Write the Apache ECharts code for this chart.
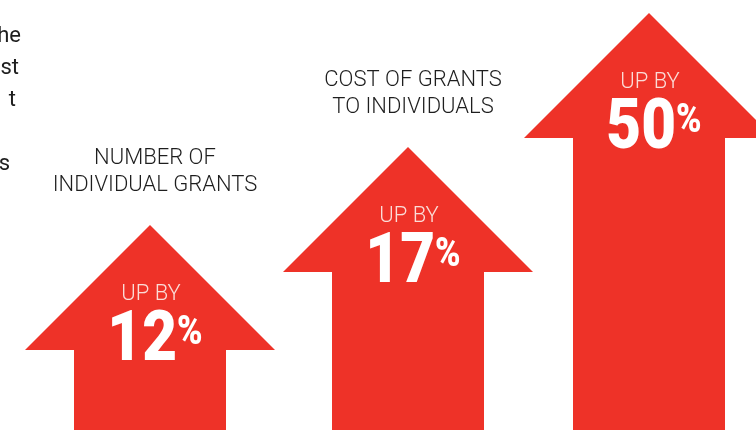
<!DOCTYPE html>
<html>
<head>
<meta charset="utf-8">
<script src="https://cdn.jsdelivr.net/npm/echarts@6/dist/echarts.min.js"></script>
<style>
  html, body { margin: 0; padding: 0; background: #fff; }
  #chart { width: 756px; height: 430px; }
</style>
</head>
<body>
<div id="chart"></div>
<script>
// data
const titles = ['NUMBER OF\nINDIVIDUAL GRANTS', 'COST OF GRANTS\nTO INDIVIDUALS', ''];
const increases = [12, 17, 50];
const arrowHeights = [205, 283, 417]; // tip height above the bottom edge

const RED = '#ee3228';
const FONT = 'Roboto';

const renderArrow = (params, api) => {
  const i = params.seriesIndex;
  const tip = api.coord([0, api.value(1)]);
  const base = api.coord([0, 0]);
  const x = tip[0], y = tip[1];
  const head = 125, half = 125, shaft = 76;
  const children = [
    {
      type: 'polygon',
      shape: {
        points: [
          [x, y], [x + half, y + head], [x + shaft, y + head], [x + shaft, base[1]],
          [x - shaft, base[1]], [x - shaft, y + head], [x - half, y + head]
        ]
      },
      style: { fill: RED }
    },
    {
      type: 'text',
      x: x + 1, y: y + 69,
      style: {
        text: 'UP BY', fill: '#fbdcd7', font: '300 22px ' + FONT,
        align: 'center', verticalAlign: 'middle'
      }
    },
    {
      type: 'text',
      x: x + 5, y: y + 117,
      scaleX: 0.86,
      style: {
        text: '{n|' + increases[i] + '}{p|%}',
        align: 'center', verticalAlign: 'middle',
        rich: {
          n: { fontFamily: FONT, fontWeight: 900, fontSize: 70, fill: '#fff', lineHeight: 56 },
          p: { fontFamily: FONT, fontWeight: 900, fontSize: 40, fill: '#fff', lineHeight: 14, verticalAlign: 'top' }
        }
      }
    }
  ];
  if (titles[i]) {
    children.push({
      type: 'text',
      x: x + 5, y: y - 53,
      style: {
        text: titles[i], fill: '#1e1e1e', font: '300 22px ' + FONT,
        lineHeight: 27, align: 'center', verticalAlign: 'middle'
      }
    });
  }
  return { type: 'group', children: children };
};

const centers = [150, 408, 649];
const grid = centers.map(c => ({ left: c - 1, width: 2, top: 0, bottom: 0 }));
const xAxis = centers.map((c, i) => ({ type: 'category', gridIndex: i, data: [''], show: false }));
const yAxis = centers.map((c, i) => ({ type: 'value', gridIndex: i, min: 0, max: 430, show: false }));
const series = arrowHeights.map((h, i) => ({
  type: 'custom',
  xAxisIndex: i,
  yAxisIndex: i,
  renderItem: renderArrow,
  encode: { x: 0, y: 1 },
  data: [[0, h]],
  clip: false,
  silent: true
}));

const sideStyle = { font: '22px ' + FONT, fill: '#1e1e1e', align: 'right', verticalAlign: 'middle' };
const chart = echarts.init(document.getElementById('chart'));
chart.setOption({
  animation: false,
  grid: grid,
  xAxis: xAxis,
  yAxis: yAxis,
  series: series,
  graphic: [
    { type: 'text', x: 21, y: 36, style: Object.assign({ text: 'he' }, sideStyle) },
    { type: 'text', x: 19, y: 68, style: Object.assign({ text: 'st' }, sideStyle) },
    { type: 'text', x: 16, y: 100, style: Object.assign({ text: 't' }, sideStyle) },
    { type: 'text', x: 10, y: 164, style: Object.assign({ text: 's' }, sideStyle) }
  ]
});
</script>
</body>
</html>
